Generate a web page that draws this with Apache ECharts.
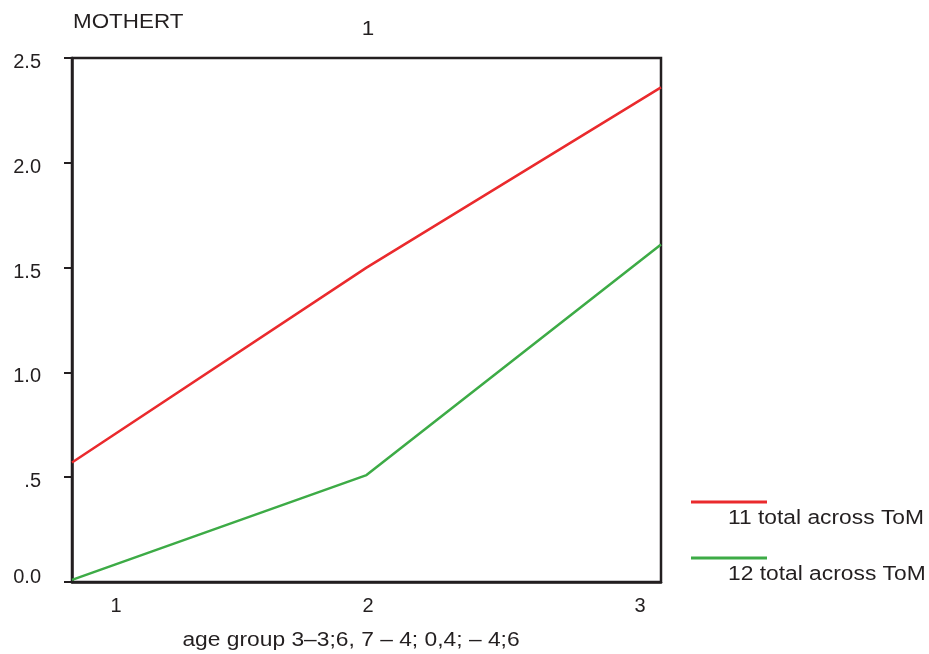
<!DOCTYPE html>
<html>
<head>
<meta charset="utf-8">
<script src="https://cdn.jsdelivr.net/npm/echarts@6/dist/echarts.min.js"></script>
<style>html,body{margin:0;padding:0;background:#fff;}#c{width:929px;height:654px;}</style>
</head>
<body>
<div id="c"></div>
<script>
var categories = ['1', '2', '3'];
var seriesNames = ['11 total across ToM', '12 total across ToM'];
var series11 = [0.57, 1.50, 2.36];
var series12 = [0.01, 0.51, 1.61];
var yTicks = [0, 0.5, 1, 1.5, 2, 2.5];
var yTickLabels = ['0.0', '.5', '1.0', '1.5', '2.0', '2.5'];
var xTitle = 'age group 3\u20133;6, 7 \u2013 4; 0,4; \u2013 4;6';
var yTitle = 'MOTHERT';
var panelTitle = '1';

var colors = ['#ea2a2d', '#3dab46'];
var font = '"Liberation Sans", Arial, sans-serif';
var ink = '#231f20';

function stretchedText(str, x, y, size, sx, align) {
  return {
    type: 'text', x: x, y: y, scaleX: sx, originX: 0, originY: 0,
    style: { text: str, fill: ink, font: size + 'px ' + font, textAlign: align || 'left', textVerticalAlign: 'middle' }
  };
}

var chart = echarts.init(document.getElementById('c'));
var graphics = [];
seriesNames.forEach(function (n, i) {
  var y = 502 + i * 56;
  graphics.push({ type: 'line', shape: { x1: 691, y1: y, x2: 767, y2: y }, style: { stroke: colors[i], lineWidth: 3 } });
  graphics.push(stretchedText(n, 728, y + 16, 20, 1.14));
});
graphics.push(stretchedText(yTitle, 73, 22, 20, 1.12));
graphics.push(stretchedText(panelTitle, 368, 29, 20, 1.12, 'center'));
graphics.push(stretchedText(xTitle, 351, 640, 20, 1.14, 'center'));

var option = {
  animation: false,
  backgroundColor: '#fff',
  textStyle: { fontFamily: font },
  grid: { left: 72, right: 268, top: 58, bottom: 72, outerBoundsMode: 'none', containLabel: false, show: true, borderColor: ink, borderWidth: 2.5, backgroundColor: 'transparent' },
  xAxis: {
    type: 'category',
    data: categories,
    boundaryGap: false,
    axisLine: { show: true, lineStyle: { color: ink, width: 2.5 } },
    axisTick: { show: false },
    axisLabel: {
      color: ink, fontSize: 20, fontFamily: font, margin: 14,
      formatter: function (v, i) { return '{l' + i + '|' + v + '}'; },
      rich: {
        l0: { padding: [0, 0, 0, 88], fontSize: 20, color: ink },
        l1: { padding: [0, 0, 0, 3], fontSize: 20, color: ink },
        l2: { padding: [0, 42, 0, 0], fontSize: 20, color: ink }
      }
    },
    splitLine: { show: false }
  },
  yAxis: {
    type: 'value',
    min: 0, max: 2.5, interval: 0.5,
    axisLine: { show: true, lineStyle: { color: ink, width: 2.5 } },
    axisTick: { show: true, length: 8, lineStyle: { color: ink, width: 2 } },
    axisLabel: {
      color: ink, fontSize: 20, fontFamily: font, margin: 31,
      formatter: function (v) {
        var i = yTicks.indexOf(v);
        if (i < 0) return '';
        return (i === 0 ? '{b|' : '{d|') + yTickLabels[i] + '}';
      },
      rich: {
        b: { fontSize: 20, color: ink, padding: [0, 0, 10, 0] },
        d: { fontSize: 20, color: ink, padding: [9, 0, 0, 0] }
      }
    },
    splitLine: { show: false }
  },
  series: [
    { name: seriesNames[0], type: 'line', data: series11, symbol: 'none', lineStyle: { color: colors[0], width: 2.5 }, itemStyle: { color: colors[0] } },
    { name: seriesNames[1], type: 'line', data: series12, symbol: 'none', lineStyle: { color: colors[1], width: 2.5 }, itemStyle: { color: colors[1] } }
  ],
  graphic: graphics
};
chart.setOption(option);
</script>
</body>
</html>
